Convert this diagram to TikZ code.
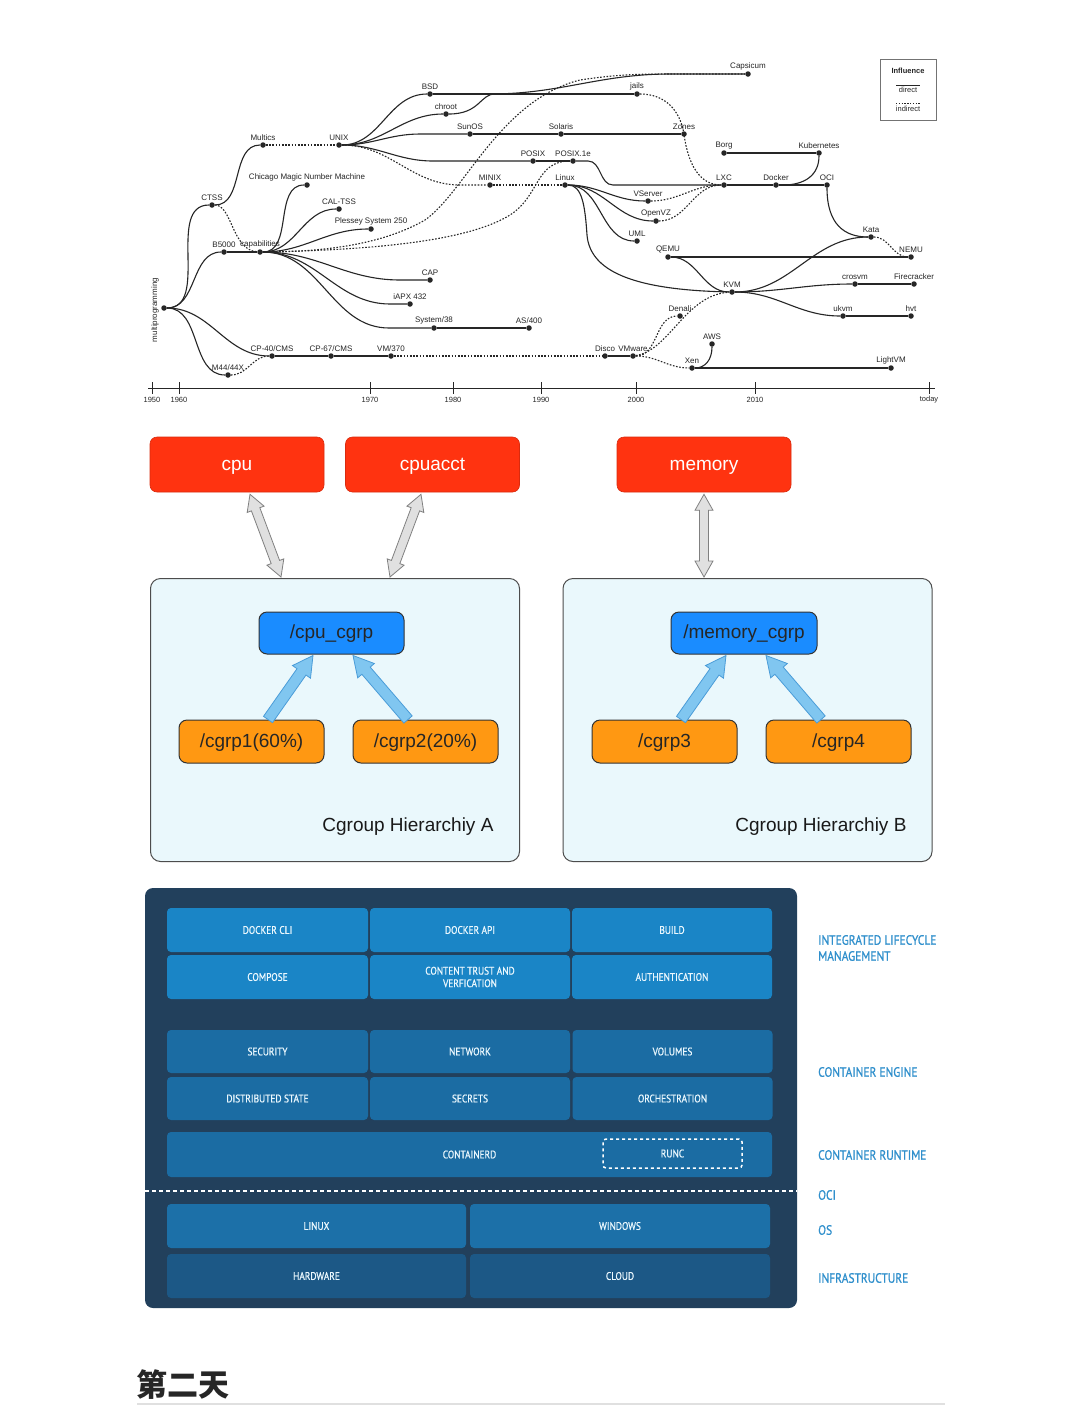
\documentclass[tikz,border=0pt]{standalone}
\usepackage{fontspec}
\setmainfont{Liberation Sans}
\newfontfamily\condf[FakeStretch=0.85]{PT Sans}
\newfontfamily\condb[FakeStretch=0.85,FakeBold=0.8]{PT Sans}
\newfontfamily\cjkf{Noto Sans CJK SC}
\usetikzlibrary{calc}
\definecolor{cred}{HTML}{FF3310}
\definecolor{corange}{HTML}{FF9812}
\definecolor{cblue}{HTML}{1A8CFF}
\definecolor{cbg}{HTML}{EAF8FC}
\definecolor{dbg}{HTML}{22405C}
\definecolor{dt1}{HTML}{1A85C6}
\definecolor{dt2}{HTML}{1B6CA3}
\definecolor{dt3}{HTML}{1C70A8}
\definecolor{dt4}{HTML}{1C5886}
\definecolor{dlab}{HTML}{2F8FCC}
\definecolor{bafill}{HTML}{80C6F0}
\definecolor{badraw}{HTML}{4A9CD8}
\newcommand\fatarrow[6]{%
 \coordinate (fah) at ($(#3)!#6!(#2)$);
 \filldraw[#1] ($(#2)!#4!90:(#3)$) -- ($(fah)!#4!90:(#3)$) -- ($(fah)!#5!90:(#3)$) -- (#3) -- ($(fah)!#5!-90:(#3)$) -- ($(fah)!#4!-90:(#3)$) -- ($(#2)!#4!-90:(#3)$) -- cycle;}
\newcommand\fatdouble[6]{%
 \coordinate (fah) at ($(#3)!#6!(#2)$);
 \coordinate (fat) at ($(#2)!#6!(#3)$);
 \filldraw[#1] (#2) -- ($(fat)!#5!90:(#3)$) -- ($(fat)!#4!90:(#3)$) -- ($(fah)!#4!90:(#3)$) -- ($(fah)!#5!90:(#3)$) -- (#3) -- ($(fah)!#5!-90:(#3)$) -- ($(fah)!#4!-90:(#3)$) -- ($(fat)!#4!-90:(#3)$) -- ($(fat)!#5!-90:(#3)$) -- cycle;}
\tikzset{
 tdot/.style={circle,fill=black!85,inner sep=0pt,minimum size=5.5pt},
 tl/.style={font=\fontsize{8}{9}\selectfont,text=black!85,inner sep=1pt},
 dln/.style={line width=1.1pt,draw=black!85},
 iln/.style={line width=1.1pt,draw=black!85,dash pattern=on 1.6pt off 1.6pt},
 bigtext/.style={font=\fontsize{19}{22}\selectfont,text height=13.5pt,text depth=2pt},
 redbox/.style={rectangle,rounded corners=7pt,fill=cred,draw=cred!85!black,line width=0.6pt,minimum width=174pt,minimum height=55pt,text=white,bigtext},
 cbox/.style={rectangle,rounded corners=10pt,fill=cbg,draw=black!70,line width=1pt,minimum width=369pt,minimum height=283pt},
 bluebox/.style={rectangle,rounded corners=8pt,fill=cblue,draw=black!80,line width=1pt,minimum width=145pt,minimum height=42pt,bigtext,text=black!85},
 orbox/.style={rectangle,rounded corners=8pt,fill=corange,draw=black!80,line width=1pt,minimum width=145pt,minimum height=43pt,bigtext,text=black!85},
 garrow/.style={fill=black!12,draw=black!50,line width=0.8pt},
 barrow/.style={fill=bafill,draw=badraw,line width=0.8pt},
 tile/.style={rectangle,rounded corners=4pt,minimum height=44pt,text=white!92!cyan,font=\condb\fontsize{11}{12.5}\selectfont,align=center,inner sep=0pt},
 rlab/.style={anchor=west,text=dlab,font=\condb\fontsize{13.5}{16}\selectfont,align=left,inner sep=0pt},
}
\begin{document}
\begin{tikzpicture}[x=1pt,y=-1pt]
\fill[white] (0,0) rectangle (1080,1414);
\useasboundingbox (0,0) rectangle (1080,1414);

% ---------------- timeline ----------------
\node[tdot] (mp) at (164,308) {};
\node[tl,rotate=90] (mpl) at (155,310) {multiprogramming};
\node[tdot,label={[tl]above:CTSS}] (ctss) at (212,205) {};
\node[tdot,label={[tl]above:Multics}] (multics) at (263,145) {};
\node[tdot,label={[tl]above:UNIX}] (unix) at (339,145) {};
\node[tdot,label={[tl]above:B5000}] (b5000) at (224,252) {};
\node[tdot,label={[tl]above:capabilities}] (cap) at (260,252) {};
\node[tdot,label={[tl]above:Chicago Magic Number Machine}] (chicago) at (307,185) {};
\node[tdot,label={[tl]above:CAL-TSS}] (caltss) at (339,209) {};
\node[tdot,label={[tl]above:Plessey System 250}] (plessey) at (371,229) {};
\node[tdot,label={[tl]above:CAP}] (capn) at (430,280) {};
\node[tdot,label={[tl]above:iAPX 432}] (iapx) at (410,304) {};
\node[tdot,label={[tl]above:System/38}] (s38) at (434,328) {};
\node[tdot,label={[tl]above:AS/400}] (as400) at (529,328) {};
\node[tdot,label={[tl]above:CP-40/CMS}] (cp40) at (272,356) {};
\node[tdot,label={[tl]above:CP-67/CMS}] (cp67) at (331,356) {};
\node[tdot,label={[tl]above:VM/370}] (vm370) at (391,356) {};
\node[tdot,label={[tl]above:M44/44X}] (m44) at (228,375) {};
\node[tdot,label={[tl]above:BSD}] (bsd) at (430,94) {};
\node[tdot,label={[tl]above:chroot}] (chroot) at (446,114) {};
\node[tdot,label={[tl]above:jails}] (jails) at (637,94) {};
\node[tdot,label={[tl]above:Capsicum}] (capsicum) at (748,74) {};
\node[tdot,label={[tl]above:SunOS}] (sunos) at (470,134) {};
\node[tdot,label={[tl]above:Solaris}] (solaris) at (561,134) {};
\node[tdot,label={[tl]above:Zones}] (zones) at (684,134) {};
\node[tdot,label={[tl]above:POSIX}] (posix) at (533,161) {};
\node[tdot,label={[tl]above:POSIX.1e}] (posixe) at (573,161) {};
\node[tdot,label={[tl]above:MINIX}] (minix) at (490,185) {};
\node[tdot,label={[tl]above:Linux}] (linux) at (565,185) {};
\node[tdot,label={[tl]above:VServer}] (vserver) at (648,201) {};
\node[tdot,label={[tl]above:OpenVZ}] (openvz) at (656,221) {};
\node[tdot,label={[tl]above:UML}] (uml) at (637,241) {};
\node[tdot,label={[tl]above:QEMU}] (qemu) at (668,257) {};
\node[tdot,label={[tl]above:LXC}] (lxc) at (724,185) {};
\node[tdot,label={[tl]above:Docker}] (dock) at (776,185) {};
\node[tdot,label={[tl]above:OCI}] (oci) at (827,185) {};
\node[tdot,label={[tl]above:Borg}] (borg) at (724,153) {};
\node[tdot,label={[tl]above:Kubernetes}] (k8s) at (819,153) {};
\node[tdot,label={[tl]above:Kata}] (kata) at (871,237) {};
\node[tdot,label={[tl]above:NEMU}] (nemu) at (911,257) {};
\node[tdot,label={[tl]above:KVM}] (kvm) at (732,292) {};
\node[tdot,label={[tl]above:crosvm}] (crosvm) at (855,284) {};
\node[tdot,label={[tl]above:Firecracker}] (fire) at (914,284) {};
\node[tdot,label={[tl]above:ukvm}] (ukvm) at (843,316) {};
\node[tdot,label={[tl]above:hvt}] (hvt) at (911,316) {};
\node[tdot,label={[tl]above:Disco}] (disco) at (605,356) {};
\node[tdot,label={[tl]above:VMware}] (vmware) at (633,356) {};
\node[tdot,label={[tl]above:Denali}] (denali) at (680,316) {};
\node[tdot,label={[tl]above:AWS}] (aws) at (712,344) {};
\node[tdot,label={[tl]above:Xen}] (xen) at (692,368) {};
\node[tdot,label={[tl]above:LightVM}] (lightvm) at (891,368) {};

% direct influences
\draw[dln] (mp) to[out=0,in=180] (ctss);
\draw[dln] (mp) to[out=0,in=180] (b5000);
\draw[dln] (mp) to[out=0,in=180] (cp40);
\draw[dln] (mp) to[out=0,in=180] (m44);
\draw[dln] (ctss) to[out=0,in=180] (multics);
\draw[dln] (b5000) -- (cap);
\draw[dln] (cap) to[out=0,in=180] (chicago);
\draw[dln] (cap) to[out=0,in=180] (caltss);
\draw[dln] (cap) to[out=0,in=180] (plessey);
\draw[dln] (cap) to[out=0,in=180] ($(capn)+(-30,0)$) -- (capn);
\draw[dln] (cap) to[out=0,in=180] ($(iapx)+(-20,0)$) -- (iapx);
\draw[dln] (cap) to[out=0,in=180] ($(s38)+(-45,0)$) -- (s38);
\draw[dln] (s38) -- (as400);
\draw[dln] (cp40) -- (cp67) -- (vm370);
\draw[dln] (unix) to[out=0,in=180] (bsd);
\draw[dln] (unix) to[out=0,in=180] (chroot);
\draw[dln] (unix) to[out=0,in=180] ($(sunos)+(-50,0)$) -- (sunos);
\draw[dln] (unix) to[out=0,in=180] ($(posix)+(-100,0)$) -- (posix);
\draw[dln] (bsd) -- (jails);
\draw[dln] (chroot) .. controls (480,114) and (480,94) .. (495,94) -- (jails);
\draw[dln] (bsd) -- ++(60,0) to[out=0,in=180] ++(180,-20) -- (capsicum);
\draw[dln] (sunos) -- (solaris) -- (zones);
\draw[dln] (posix) -- (posixe);
\draw[dln] (posixe) -- ++(15,0) to[out=0,in=180] ++(25,24) -- (lxc);
\draw[dln] (linux) to[out=0,in=180] (vserver);
\draw[dln] (linux) to[out=0,in=180] (openvz);
\draw[dln] (linux) to[out=0,in=180] (uml);
\draw[dln] (linux) .. controls (582,185) and (585,205) .. (587,235) .. controls (590,270) and (630,290) .. (kvm);
\draw[dln] (lxc) -- (dock) -- (oci);
\draw[dln] (borg) -- (k8s);
\draw[dln] (k8s) .. controls (819,175) and (805,185) .. (783,185) -- (dock);
\draw[dln] (oci) .. controls (827,225) and (845,237) .. (kata);
\draw[dln] (kvm) to[out=0,in=180] (kata);
\draw[dln] (qemu) -- (nemu);
\draw[dln] (qemu) to[out=0,in=180] (kvm);
\draw[dln] (kvm) to[out=0,in=180] (crosvm);
\draw[dln] (crosvm) -- (fire);
\draw[dln] (kvm) to[out=0,in=180] (ukvm);
\draw[dln] (ukvm) -- (hvt);
\draw[dln] (disco) -- (vmware);
\draw[dln] (xen) -- (lightvm);
\draw[dln] (xen) .. controls (705,368) and (712,360) .. (aws);

% indirect influences
\draw[iln] (m44) to[out=0,in=180] (cp40);
\draw[iln] (ctss) .. controls (232,205) and (232,250) .. (cap);
\draw[iln] (multics) -- (unix);
\draw[iln] (unix) to[out=0,in=180] ($(minix)+(-30,0)$) -- (minix);
\draw[iln] (minix) -- (linux);
\draw[iln] (cap) .. controls (380,250) and (470,240) .. (510,215) .. controls (540,196) and (535,161) .. (posixe);
\draw[iln] (cap) .. controls (340,252) and (390,240) .. (425,220) .. controls (465,192) and (500,100) .. (580,80) .. controls (620,74) and (640,74) .. (680,74) -- (capsicum);
\draw[iln] (jails) .. controls (665,94) and (680,110) .. (684,134) .. controls (688,165) and (700,185) .. (lxc);
\draw[iln] (vserver) to[out=0,in=180] (lxc);
\draw[iln] (openvz) to[out=0,in=180] (lxc);
\draw[iln] (kata) to[out=0,in=180] (nemu);
\draw[iln] (vm370) -- (disco);
\draw[iln] (vmware) to[out=0,in=180] (denali);
\draw[iln] (vmware) .. controls (670,350) and (685,295) .. (kvm);
\draw[iln] (vmware) to[out=0,in=180] (xen);

% axis
\draw[line width=1pt,black!85] (148,388) -- (935,388);
\foreach \x/\t in {152/1950,179/1960,370/1970,453/1980,541/1990,636/2000,755/2010,929/today}{
  \draw[line width=1pt,black!85] (\x,382) -- (\x,394);
  \node[tl,font=\fontsize{7.5}{9}\selectfont] at (\x,400) {\t};
}

% legend
\draw[black!55,line width=0.8pt] (880,59) rectangle (936,120);
\node[tl,font=\bfseries\fontsize{7.5}{9}\selectfont] (lgt) at (908,71) {Influence};
\draw[black!85,line width=0.7pt] (896,85) -- (920,85);
\node[tl,font=\fontsize{7.5}{9}\selectfont] (lgd) at (908,90) {direct};
\draw[black!85,line width=0.7pt,dash pattern=on 1.4pt off 1.4pt] (896,103) -- (920,103);
\node[tl,font=\fontsize{7.5}{9}\selectfont] (lgi) at (908,109) {indirect};

% ---------------- cgroups ----------------
\node[redbox] (cpu) at (237,464.5) {cpu};
\node[redbox] (cpuacct) at (432.5,464.5) {cpuacct};
\node[redbox] (memory) at (704,464.5) {memory};
\node[cbox] (boxA) at (335,720) {};
\node[cbox] (boxB) at (747.5,720) {};
\node[bluebox] (cpucg) at (331.5,633) {/cpu\_cgrp};
\node[orbox] (cg1) at (251.5,741.5) {/cgrp1(60\%)};
\node[orbox] (cg2) at (425.5,741.5) {/cgrp2(20\%)};
\node[bluebox,minimum width=146pt] (memcg) at (744,633) {/memory\_cgrp};
\node[orbox] (cg3) at (664.5,741.5) {/cgrp3};
\node[orbox] (cg4) at (838.5,741.5) {/cgrp4};
\node[anchor=east,bigtext,text=black!90] (labA) at (497,826) {Cgroup Hierarchiy A};
\node[anchor=east,bigtext,text=black!90] (labB) at (910,826) {Cgroup Hierarchiy B};

\coordinate (ga1) at ($(cpu.south)+(13,2)$);
\coordinate (ga2) at ($(boxA.north)+(-54,-1)$);
\coordinate (gb1) at ($(cpuacct.south)+(-11.5,2)$);
\coordinate (gb2) at ($(boxA.north)+(55,-1)$);
\coordinate (gc1) at ($(memory.south)+(0,2)$);
\coordinate (gc2) at ($(boxB.north)+(-43.5,-1)$);
\fatdouble{garrow}{ga1}{ga2}{4.5pt}{9pt}{16pt}
\fatdouble{garrow}{gb1}{gb2}{4.5pt}{9pt}{16pt}
\fatdouble{garrow}{gc1}{gc2}{4.5pt}{9pt}{16pt}

\coordinate (b1s) at ($(cg1.north)+(16.5,0)$);
\coordinate (b1e) at ($(cpucg.south)+(-18.5,1)$);
\coordinate (b2s) at ($(cg2.north)+(-17.5,0)$);
\coordinate (b2e) at ($(cpucg.south)+(21.5,1)$);
\coordinate (b3s) at ($(cg3.north)+(16.5,0)$);
\coordinate (b3e) at ($(memcg.south)+(-18,1)$);
\coordinate (b4s) at ($(cg4.north)+(-17.5,0)$);
\coordinate (b4e) at ($(memcg.south)+(22,1)$);
\fatarrow{barrow}{b1s}{b1e}{5.5pt}{11pt}{20pt}
\fatarrow{barrow}{b2s}{b2e}{5.5pt}{11pt}{20pt}
\fatarrow{barrow}{b3s}{b3e}{5.5pt}{11pt}{20pt}
\fatarrow{barrow}{b4s}{b4e}{5.5pt}{11pt}{20pt}

% ---------------- docker ----------------
\fill[dbg,rounded corners=8pt] (145,888) rectangle (797,1308);
\node[tile,fill=dt1,minimum width=201pt] (tcli) at (267.5,930) {DOCKER CLI};
\node[tile,fill=dt1,minimum width=200pt] (tapi) at (470,930) {DOCKER API};
\node[tile,fill=dt1,minimum width=200pt] (tbuild) at (672,930) {BUILD};
\node[tile,fill=dt1,minimum width=201pt] (tcomp) at (267.5,977) {COMPOSE};
\node[tile,fill=dt1,minimum width=200pt] (ttrust) at (470,977) {CONTENT TRUST AND\\VERFICATION};
\node[tile,fill=dt1,minimum width=200pt] (tauth) at (672,977) {AUTHENTICATION};
\node[tile,fill=dt2,minimum width=201pt,minimum height=43pt] (tsec) at (267.5,1051.5) {SECURITY};
\node[tile,fill=dt2,minimum width=200pt,minimum height=43pt] (tnet) at (470,1051.5) {NETWORK};
\node[tile,fill=dt2,minimum width=200pt,minimum height=43pt] (tvol) at (672.5,1051.5) {VOLUMES};
\node[tile,fill=dt2,minimum width=201pt,minimum height=43pt] (tdist) at (267.5,1098.5) {DISTRIBUTED STATE};
\node[tile,fill=dt2,minimum width=200pt,minimum height=43pt] (tsecr) at (470,1098.5) {SECRETS};
\node[tile,fill=dt2,minimum width=200pt,minimum height=43pt] (torch) at (672.5,1098.5) {ORCHESTRATION};
\node[tile,fill=dt2,minimum width=605pt,minimum height=45pt] (tcd) at (469.5,1154.5) {CONTAINERD};
\node[tile,draw=white,dashed,line width=1.5pt,rounded corners=3pt,minimum width=139pt,minimum height=29pt] (trunc) at (672.5,1153.5) {RUNC};
\draw[white,line width=2pt,dash pattern=on 4pt off 3pt] (145,1191) -- (797,1191);
\node[tile,fill=dt3,minimum width=299pt] (tlin) at (316.5,1226) {LINUX};
\node[tile,fill=dt3,minimum width=300pt] (twin) at (620,1226) {WINDOWS};
\node[tile,fill=dt4,minimum width=299pt] (thw) at (316.5,1276) {HARDWARE};
\node[tile,fill=dt4,minimum width=300pt] (tcloud) at (620,1276) {CLOUD};

\node[rlab] (r1) at (818,948) {INTEGRATED LIFECYCLE\\MANAGEMENT};
\node[rlab] (r2) at (818,1072) {CONTAINER ENGINE};
\node[rlab] (r3) at (818,1155) {CONTAINER RUNTIME};
\node[rlab] (r4) at (818,1195) {OCI};
\node[rlab] (r5) at (818,1230) {OS};
\node[rlab] (r6) at (818,1278) {INFRASTRUCTURE};

% ---------------- title ----------------
\node[anchor=west,inner sep=0pt,font=\cjkf\bfseries\fontsize{31}{34}\selectfont,text=black!85] (title) at (136,1385) {第二天};
\draw[black!12,line width=1.2pt] (137,1404) -- (945,1404);
\end{tikzpicture}
\end{document}
